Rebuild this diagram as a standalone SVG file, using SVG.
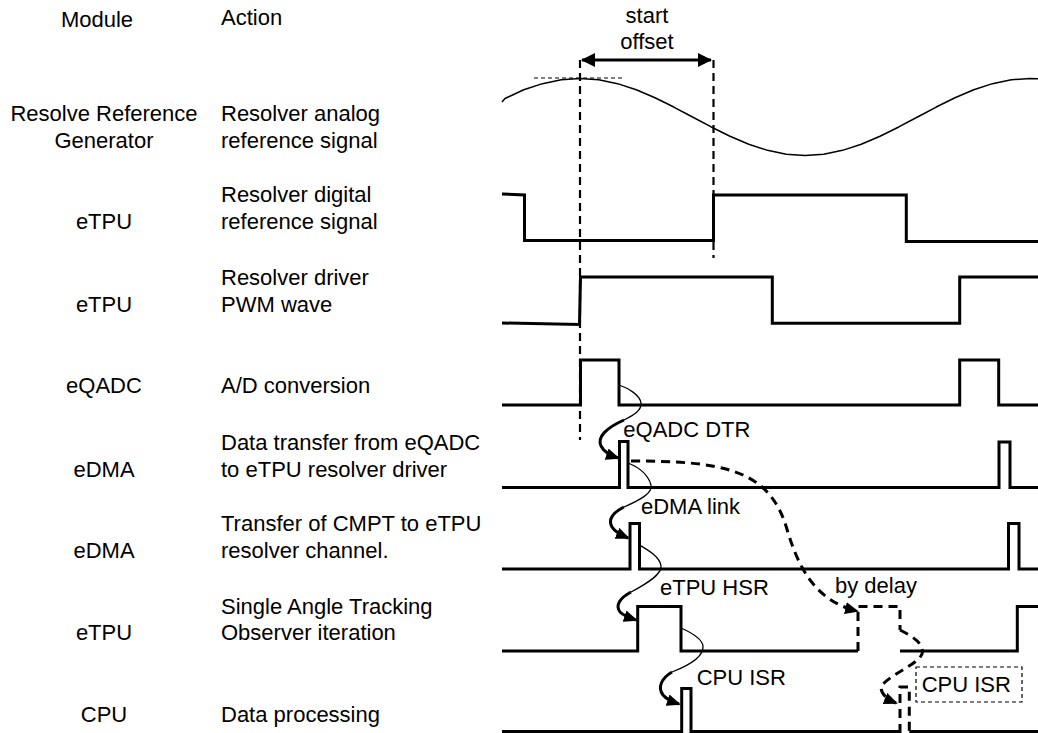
<svg xmlns="http://www.w3.org/2000/svg" width="1038" height="733" viewBox="0 0 1038 733">
<style>
text{font-family:"Liberation Sans",Arial,Helvetica,sans-serif;font-size:22px;fill:#000}
.m{text-anchor:middle}
.w{fill:none;stroke:#000;stroke-width:3;stroke-linejoin:miter}
.sine{fill:none;stroke:#000;stroke-width:1.5;stroke-linejoin:round}
.vd{fill:none;stroke:#000;stroke-width:2.2;stroke-dasharray:8 5}
.thin{fill:none;stroke:#000;stroke-width:1.3}
.thick{fill:none;stroke:#000;stroke-width:3}
.dash{fill:none;stroke:#000;stroke-width:3;stroke-dasharray:9 6}
</style>
<defs>
<marker id="ah" viewBox="0 0 14 12" refX="12" refY="6" markerWidth="14" markerHeight="12" markerUnits="userSpaceOnUse" orient="auto">
<path d="M0,0 L14,6 L0,12 z" fill="#000"/>
</marker>
<marker id="ao" viewBox="0 0 14 14" refX="13" refY="7" markerWidth="14" markerHeight="14" markerUnits="userSpaceOnUse" orient="auto-start-reverse">
<path d="M0,0 L14,7 L0,14 z" fill="#000"/>
</marker>
</defs>

<g id="headers">
<text class="m" x="97" y="27">Module</text>
<text x="221" y="25">Action</text>
</g>

<g id="row-analog">
<text class="m" x="104" y="121">Resolve Reference</text>
<text class="m" x="104" y="148">Generator</text>
<text x="221" y="121">Resolver analog</text>
<text x="221" y="148">reference signal</text>
<polyline class="sine" points="502,102 505,98.5 523.75,89.78 542.5,83.66 561.25,79.81 580,78.5 598.75,79.81 617.5,83.66 636.25,89.78 655,97.75 673.75,107.04 692.5,117 711.25,126.96 730,136.25 748.75,144.22 767.5,150.34 786.25,154.19 805,155.5 823.75,154.19 842.5,150.34 861.25,144.22 880,136.25 898.75,126.96 917.5,117 936.25,107.04 955,97.75 973.75,89.78 992.5,83.66 1011.25,79.81 1030,78.5 1038,78.74"/>
<line x1="534" y1="78" x2="623" y2="78" stroke="#000" stroke-width="1" stroke-dasharray="4 3"/>
</g>

<g id="row-digital">
<text class="m" x="104" y="228.5">eTPU</text>
<text x="221" y="201.5">Resolver digital</text>
<text x="221" y="228.5">reference signal</text>
<path class="w" d="M502,194 L524.5,195 V240.5 H713.5 V195 H906.3 V241.5 H1038"/>
</g>

<g id="row-pwm">
<text class="m" x="104" y="311.5">eTPU</text>
<text x="221" y="285">Resolver driver</text>
<text x="221" y="311.5">PWM wave</text>
<path class="w" d="M502,323 L579.5,324.5 L580.5,277 H772.3 V323.3 H959.7 V277 H1038"/>
</g>

<g id="row-adc">
<text class="m" x="104" y="393">eQADC</text>
<text x="221" y="393">A/D conversion</text>
<path class="w" d="M502,405 H580.5 V360 H619 V405 H959.7 V360 H998.7 V405 H1038"/>
</g>

<g id="row-dtr">
<text class="m" x="104" y="476.5">eDMA</text>
<text x="221" y="449.5">Data transfer from eQADC</text>
<text x="221" y="476.5">to eTPU resolver driver</text>
<path class="w" d="M502,487.5 H619.5 V441.5 H628 V487.5 H999 V442 H1010 V487.5 H1038"/>
</g>

<g id="row-link">
<text class="m" x="104" y="557.5">eDMA</text>
<text x="221" y="531">Transfer of CMPT to eTPU</text>
<text x="221" y="557.5">resolver channel.</text>
<path class="w" d="M502,569 H630 V523.5 H639.5 V569 H1008.5 V523.5 H1019 V569 H1038"/>
</g>

<g id="row-observer">
<text class="m" x="104" y="640">eTPU</text>
<text x="221" y="614">Single Angle Tracking</text>
<text x="221" y="640">Observer iteration</text>
<path class="w" d="M502,651 H637.7 V606.5 H681 V651 H858"/>
<path class="w" d="M900,651 H1017.3 V606.5 H1038"/>
<path class="dash" d="M858,651 V606.5 H900 V630"/>
</g>

<g id="row-cpu">
<text class="m" x="104" y="721.5">CPU</text>
<text x="221" y="721.5">Data processing</text>
<path class="w" d="M502,731.5 H681.7 V688.5 H691 V731.5 H900"/>
<path class="w" d="M909.3,731.5 H1038"/>
<path class="dash" d="M900,733 V687 H909.3 V733" stroke-dasharray="8 5"/>
</g>

<g id="start-offset">
<text class="m" x="647" y="22.7">start</text>
<text class="m" x="647" y="49.3">offset</text>
<line x1="582" y1="60" x2="711" y2="60" stroke="#000" stroke-width="3" marker-start="url(#ao)" marker-end="url(#ao)"/>
<line class="vd" x1="580" y1="60" x2="580" y2="440"/>
<line class="vd" x1="713.5" y1="60" x2="713.5" y2="258"/>
</g>

<g id="connectors">
<path class="thin" d="M619,385 C628,388 640,395 641,403 C642,410 634,415 624,420"/>
<path class="thick" d="M624,420 C606,428 597,437 601,446 C604,452 609,455 618,458" marker-end="url(#ah)"/>
<path class="thin" d="M628,463 C638,467 648,474 651,485 C653,493 640,500 624,507"/>
<path class="thick" d="M624,507 C612,513 608,520 612,527 C615,532 621,535 628,538" marker-end="url(#ah)"/>
<path class="thin" d="M639.5,545 C648,550 660,557 661,566 C662,574 648,583 631,592"/>
<path class="thick" d="M631,592 C620,598 615,605 620,612 C624,616 630,618 636,620" marker-end="url(#ah)"/>
<path class="thin" d="M681,628 C690,632 702,638 703,646 C704,656 690,665 672,672"/>
<path class="thick" d="M672,672 C662,678 657,687 663,695 C667,700 673,702 679,704" marker-end="url(#ah)"/>
<path class="dash" d="M631,461 C722,461 768,469 786,526 C797,563 812,600 857,611" marker-end="url(#ah)"/>
<path class="dash" d="M900,630 C912,636 925,644 922,654 C918,664 895,672 883,684 C878,690 884,698 896,703" marker-end="url(#ah)"/>
</g>

<g id="labels">
<text x="623.3" y="437.3">eQADC DTR</text>
<text x="641" y="514">eDMA link</text>
<text x="660" y="595">eTPU HSR</text>
<text x="696.7" y="685">CPU ISR</text>
<text x="835" y="592.7">by delay</text>
<g id="cpu-isr-delayed">
<rect x="916" y="667" width="106" height="35" fill="none" stroke="#000" stroke-width="1.2" stroke-dasharray="4 3"/>
<text x="921.7" y="691.7">CPU ISR</text>
</g>
</g>
</svg>
